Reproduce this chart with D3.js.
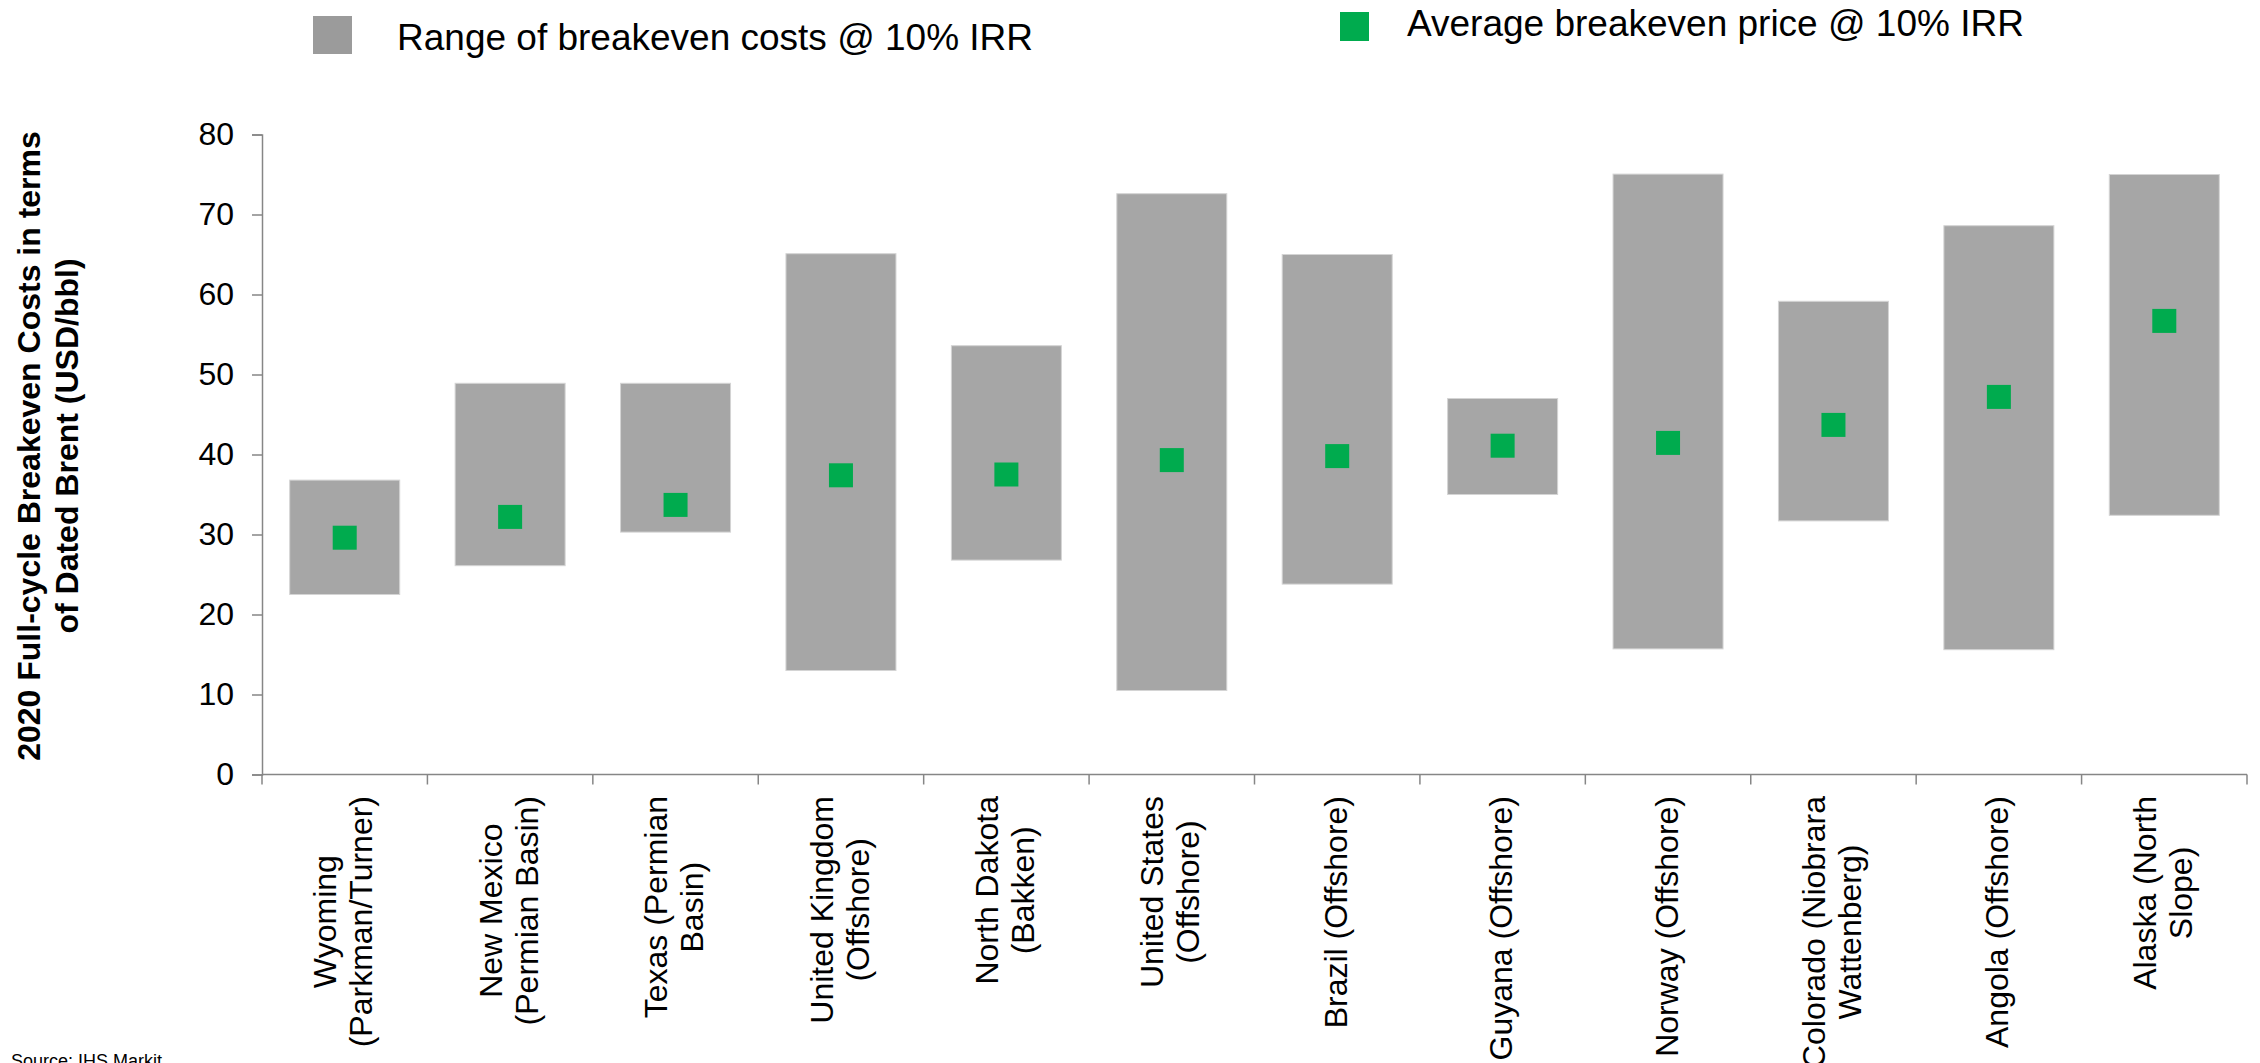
<!DOCTYPE html>
<html>
<head>
<meta charset="utf-8">
<script src="https://cdn.jsdelivr.net/npm/d3@7"></script>
<style>
	body { margin: 0; background: #fff; }
	text { font-family: "Liberation Sans", Arial, sans-serif; fill: #000; }
</style>
</head>
<body>
<div id="chart-area"></div>
<script>
/* Breakeven costs by region */

const regions = [
	['Wyoming', '(Parkman/Turner)'],
	['New Mexico', '(Permian Basin)'],
	['Texas (Permian', 'Basin)'],
	['United Kingdom', '(Offshore)'],
	['North Dakota', '(Bakken)'],
	['United States', '(Offshore)'],
	['Brazil (Offshore)'],
	['Guyana (Offshore)'],
	['Norway (Offshore)'],
	['Colorado (Niobrara', 'Wattenberg)'],
	['Angola (Offshore)'],
	['Alaska (North', 'Slope)'],
]
const lowCost = [22.5, 26.1, 30.3, 13.0, 26.8, 10.5, 23.8, 35.0, 15.7, 31.7, 15.6, 32.4]
const highCost = [36.8, 48.9, 48.9, 65.1, 53.6, 72.6, 65.0, 47.0, 75.05, 59.15, 68.6, 75.0]
const avgPrice = [29.6, 32.2, 33.7, 37.4, 37.5, 39.3, 39.8, 41.1, 41.45, 43.7, 47.2, 56.7]
const yTicks = [0, 10, 20, 30, 40, 50, 60, 70, 80]

const legendItems = ['Range of breakeven costs @ 10% IRR', 'Average breakeven price @ 10% IRR']
const yTitle = ['2020 Full-cycle Breakeven Costs in terms', 'of Dated Brent (USD/bbl)']
const sourceNote = 'Source: IHS Markit'

const GREY = '#a6a6a6'
const GREEN = '#00ab4e'
const AXIS = '#868686'

/* Canvas */
const CANVAS_WIDTH = 2260
const CANVAS_HEIGHT = 1063
const margin = { top: 134.5, left: 262, right: 13, bottom: 288.5 }
const width = CANVAS_WIDTH - margin.left - margin.right
const height = CANVAS_HEIGHT - margin.top - margin.bottom

const $svg = d3.select('#chart-area')
	.append('svg')
	.attr('width', CANVAS_WIDTH)
	.attr('height', CANVAS_HEIGHT)

$svg.append('rect')
	.attr('width', CANVAS_WIDTH)
	.attr('height', CANVAS_HEIGHT)
	.attr('fill', '#fff')

const $scene = $svg.append('g')
	.attr('transform', `translate(${margin.left}, ${margin.top})`)

/* Scales */
const xScale = d3.scaleBand()
	.domain(d3.range(regions.length))
	.range([0, width])
	.paddingInner(0.335)
	.paddingOuter(0.1675)

const yScale = d3.scaleLinear()
	.domain([0, 80])
	.range([height, 0])

/* Axes */
const yAxisCall = d3.axisLeft(yScale)
	.tickValues(yTicks)
	.tickSize(10)
	.tickPadding(18)

const $yAxisGroup = $scene.append('g').call(yAxisCall)
$yAxisGroup.select('.domain').attr('stroke', AXIS).attr('stroke-width', 1.5)
$yAxisGroup.selectAll('.tick line').attr('stroke', AXIS).attr('stroke-width', 1.5)
$yAxisGroup.selectAll('.tick text')
	.attr('font-size', 32)
	.attr('font-family', '"Liberation Sans", Arial, sans-serif')
	.attr('fill', '#000')

// x axis: plain line with ticks at category boundaries
const step = xScale.step()
const boundaries = d3.range(regions.length + 1).map(i => i * step)
const $xAxisGroup = $scene.append('g')
	.attr('transform', `translate(0, ${height})`)

$xAxisGroup.append('line')
	.attr('x1', 0)
	.attr('x2', width)
	.attr('stroke', AXIS)
	.attr('stroke-width', 1.5)

$xAxisGroup.selectAll('.xtick')
	.data(boundaries)
	.enter()
	.append('line')
	.attr('class', 'xtick')
	.attr('x1', d => d)
	.attr('x2', d => d)
	.attr('y1', 0)
	.attr('y2', 10)
	.attr('stroke', AXIS)
	.attr('stroke-width', 1.5)

/* Bars (ranges) */
$scene.append('g')
	.selectAll('rect')
	.data(regions.map((r, i) => i))
	.enter()
	.append('rect')
	.attr('x', i => xScale(i))
	.attr('y', i => yScale(highCost[i]))
	.attr('width', xScale.bandwidth())
	.attr('height', i => yScale(lowCost[i]) - yScale(highCost[i]))
	.attr('fill', GREY)
	.attr('stroke', '#d4d4d4')
	.attr('stroke-width', 1)

/* Average markers */
const markerSize = 24
$scene.append('g')
	.selectAll('rect')
	.data(avgPrice)
	.enter()
	.append('rect')
	.attr('x', (d, i) => xScale(i) + xScale.bandwidth() / 2 - markerSize / 2)
	.attr('y', d => yScale(d) - markerSize / 2)
	.attr('width', markerSize)
	.attr('height', markerSize)
	.attr('fill', GREEN)

/* Category labels, rotated, lines centred on the longest one */
const labelTop = 796
const lineHeight = 36
const fontSize = 32
regions.forEach((lines, i) => {
	const cx = xScale(i) + xScale.bandwidth() / 2
	const $label = $scene.append('g')
	const $texts = lines.map((line, j) => {
		const base = cx + 0.3 * fontSize + (j - (lines.length - 1) / 2) * lineHeight
		return $label.append('text')
			.attr('transform', `translate(${base}, 0) rotate(-90)`)
			.attr('text-anchor', 'middle')
			.attr('font-size', fontSize)
			.text(line)
	})
	const maxLen = d3.max($texts, t => t.node().getComputedTextLength())
	const mid = labelTop + maxLen / 2 - margin.top
	$texts.forEach($t => {
		$t.attr('y', 0).attr('x', -mid)
	})
})

/* Y axis title */
const $yTitle = $svg.append('g')
yTitle.forEach((line, j) => {
	$yTitle.append('text')
		.attr('transform', `translate(${40 + j * 38}, 446) rotate(-90)`)
		.attr('text-anchor', 'middle')
		.attr('font-size', 32)
		.attr('font-weight', 'bold')
		.text(line)
})

/* Legend */
const $legend = $svg.append('g')
$legend.append('rect')
	.attr('x', 313).attr('y', 16)
	.attr('width', 39).attr('height', 38)
	.attr('fill', '#9b9b9b')
$legend.append('text')
	.attr('x', 397).attr('y', 50)
	.attr('font-size', 37)
	.text(legendItems[0])

$legend.append('rect')
	.attr('x', 1340).attr('y', 12)
	.attr('width', 29).attr('height', 29)
	.attr('fill', GREEN)
$legend.append('text')
	.attr('x', 1407).attr('y', 36)
	.attr('font-size', 37)
	.text(legendItems[1])

/* Source */
$svg.append('text')
	.attr('x', 11)
	.attr('y', 1067)
	.attr('font-size', 18)
	.text(sourceNote)
</script>
</body>
</html>
